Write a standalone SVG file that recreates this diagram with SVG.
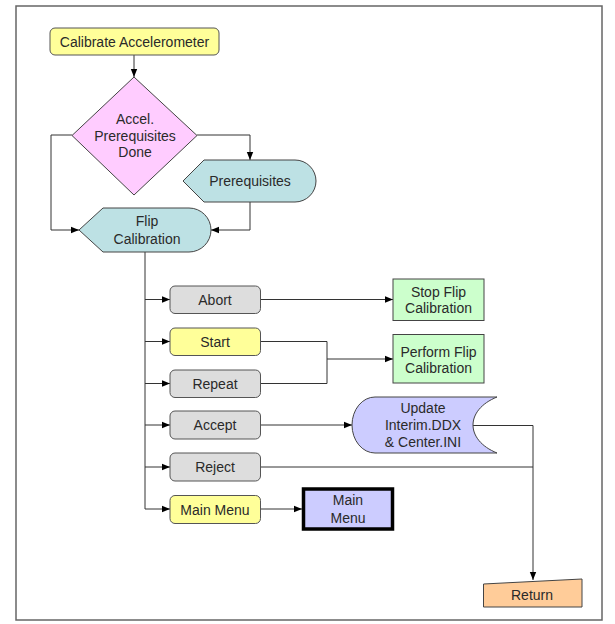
<svg xmlns="http://www.w3.org/2000/svg" width="615" height="624" viewBox="0 0 615 624">
<style>
text{font-family:"Liberation Sans",Arial,sans-serif;font-size:14px;fill:#2a2a2a;text-anchor:middle}
.s{stroke:#444;stroke-width:1}
.c{fill:none;stroke:#333;stroke-width:1}
.btn{fill:#DDDDDD;stroke:#555;stroke-width:1}
.yel{fill:#FFFF99;stroke:#555;stroke-width:1}
</style>
<defs>
<marker id="a" viewBox="0 0 8 8" refX="8" refY="4" markerWidth="8" markerHeight="8" markerUnits="userSpaceOnUse" orient="auto">
<path d="M0,0.8 L8,4 L0,7.2 Z" fill="#000"/>
</marker>
</defs>
<rect x="16" y="6" width="586" height="614" fill="#fff" stroke="#666" stroke-width="1.5"/>
<g id="connectors">
<path class="c" d="M134,55 V77" marker-end="url(#a)"/>
<path class="c" d="M72,135 H51 V230 H79" marker-end="url(#a)"/>
<path class="c" d="M197,135 H250 V160" marker-end="url(#a)"/>
<path class="c" d="M250,202 V230 H211" marker-end="url(#a)"/>
<path class="c" d="M145,252 V509"/>
<path class="c" d="M145,299.5 H170" marker-end="url(#a)"/>
<path class="c" d="M145,341.5 H170" marker-end="url(#a)"/>
<path class="c" d="M145,383.5 H170" marker-end="url(#a)"/>
<path class="c" d="M145,425 H170" marker-end="url(#a)"/>
<path class="c" d="M145,467 H170" marker-end="url(#a)"/>
<path class="c" d="M145,509 H170" marker-end="url(#a)"/>
<path class="c" d="M260,299.5 H393" marker-end="url(#a)"/>
<path class="c" d="M260,341.5 H327 V383.5 H260"/>
<path class="c" d="M327,359 H393" marker-end="url(#a)"/>
<path class="c" d="M260,425 H352" marker-end="url(#a)"/>
<path class="c" d="M473,425.5 H533 V580" marker-end="url(#a)"/>
<path class="c" d="M260,467 H533"/>
<path class="c" d="M260,509 H302" marker-end="url(#a)"/>
</g>
<g id="calibrate">
<rect x="50" y="28" width="169" height="27" rx="5" class="yel"/>
<text x="134.5" y="46.5">Calibrate Accelerometer</text>
</g>
<g id="decision">
<path d="M134,77 L197,135.5 L134,195 L72,135.5 Z" fill="#FFCCFF" class="s"/>
<text x="135" y="124">Accel.</text>
<text x="135" y="140.5">Prerequisites</text>
<text x="135" y="157">Done</text>
</g>
<g id="prerequisites">
<path d="M183,181 L204,160 L295,160 A21,21 0 0 1 295,202 L204,202 Z" fill="#BDE1E4" class="s"/>
<text x="250" y="186">Prerequisites</text>
</g>
<g id="flip">
<path d="M79,230 L103,208 L189,208 A22,22 0 0 1 189,252 L103,252 Z" fill="#BDE1E4" class="s"/>
<text x="147" y="226">Flip</text>
<text x="147" y="243.5">Calibration</text>
</g>
<g id="abort">
<rect x="170" y="286" width="90.5" height="27.5" rx="5" class="btn"/>
<text x="215" y="304.5">Abort</text>
</g>
<g id="start">
<rect x="170" y="328" width="90.5" height="27.5" rx="5" class="yel"/>
<text x="215" y="346.5">Start</text>
</g>
<g id="repeat">
<rect x="170" y="370" width="90.5" height="27.5" rx="5" class="btn"/>
<text x="215" y="388.5">Repeat</text>
</g>
<g id="accept">
<rect x="170" y="411" width="90.5" height="28" rx="5" class="btn"/>
<text x="215" y="430">Accept</text>
</g>
<g id="reject">
<rect x="170" y="453" width="90.5" height="28" rx="5" class="btn"/>
<text x="215" y="472">Reject</text>
</g>
<g id="mainmenu-btn">
<rect x="170" y="495.5" width="90.5" height="28" rx="5" class="yel"/>
<text x="215" y="514.5">Main Menu</text>
</g>
<g id="stop">
<rect x="393" y="279" width="91" height="41.5" fill="#CCFFCC" class="s"/>
<text x="438.5" y="296.5">Stop Flip</text>
<text x="438.5" y="313">Calibration</text>
</g>
<g id="perform">
<rect x="393" y="334.5" width="91" height="48.5" fill="#CCFFCC" class="s"/>
<text x="438.5" y="356.5">Perform Flip</text>
<text x="438.5" y="372.5">Calibration</text>
</g>
<g id="update">
<path d="M375,397 L497,397 C465,410 465,440 497,453 L375,453 A23,28 0 0 1 375,397 Z" fill="#CCCCFF" class="s"/>
<text x="423" y="413">Update</text>
<text x="423" y="430">Interim.DDX</text>
<text x="423" y="446.5">&amp; Center.INI</text>
</g>
<g id="mainmenu">
<rect x="303.5" y="489" width="89" height="40" fill="#CCCCFF" stroke="#000" stroke-width="3.5"/>
<text x="348" y="505">Main</text>
<text x="348" y="522.5">Menu</text>
</g>
<g id="return">
<path d="M483.5,584 L582,579 L582,607 L483.5,607 Z" fill="#FFCC99" class="s"/>
<text x="532" y="600">Return</text>
</g>
</svg>
